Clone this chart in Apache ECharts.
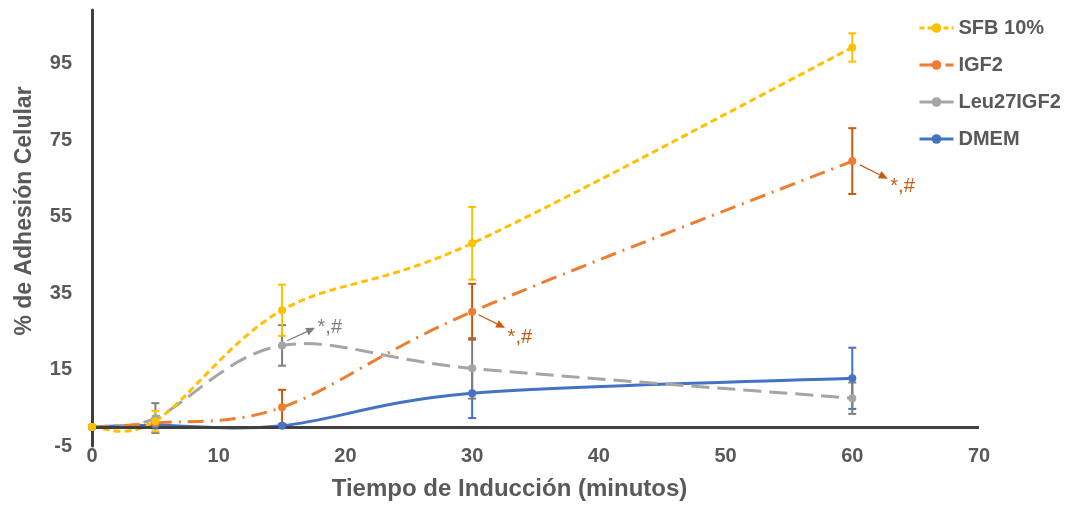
<!DOCTYPE html>
<html>
<head>
<meta charset="utf-8">
<script src="https://cdn.jsdelivr.net/npm/echarts@6/dist/echarts.min.js"></script>
<style>
html,body{margin:0;padding:0;background:#fff;}
#chart{width:1072px;height:506px;}
</style>
</head>
<body>
<div id="chart"></div>
<script>
// ---- data ----
const times = [0, 5, 15, 30, 60];
const xTicks = [0, 10, 20, 30, 40, 50, 60, 70];
const yTicks = [-5, 15, 35, 55, 75, 95];

const sfb = [0, 1.5, 30.5, 48.0, 99.2];
const sfbErr = [0, 2.7, 6.7, 9.5, 3.7];

const igf2 = [0, 1.0, 5.1, 30.1, 69.5];
const igf2Err = [0, 0, 4.6, 7.3, 8.6];

const leu = [0, 2.3, 21.3, 15.3, 7.5];
const leuErr = [0, 3.9, 5.3, 7.9, 4.1];

const dmem = [0, 0.4, 0.3, 8.8, 12.7];
const dmemErr = [0, 0.8, 0.5, 6.5, 8.0];

// annotations: arrow start (x,y), arrow end (x,y), text position (x,y)
const annGray = [[15.4, 22.5, 17.6, 25.9, 17.8, 25.9]];
const annOrange = [[30.5, 29.3, 32.6, 25.9, 32.8, 23.3], [60.6, 68.5, 62.8, 64.9, 63.0, 62.8]];
const annText = '*,#';

const names = ['SFB 10%', 'IGF2', 'Leu27IGF2', 'DMEM'];
const lineColors = ['#FFC000', '#ED7D31', '#A5A5A5', '#4472C4'];
const errColors = ['#FFC000', '#C55A11', '#7F7F7F', '#4472C4'];

const TXT = '#595959';
const FONT = 'Liberation Sans, Arial, sans-serif';

function pts(vals) { return times.map((t, i) => [t, vals[i]]); }
function errs(vals, e) { return times.map((t, i) => [t, vals[i] - e[i], vals[i] + e[i]]).filter((d, i) => e[i] > 0); }

function errSeries(name, data, color) {
  return {
    name: name, type: 'custom', silent: true, z: 3,
    data: data,
    renderItem: function (params, api) {
      const x = api.value(0);
      const lo = api.coord([x, api.value(1)]);
      const hi = api.coord([x, api.value(2)]);
      const w = 4;
      const st = { stroke: color, lineWidth: 2 };
      return {
        type: 'group', children: [
          { type: 'line', shape: { x1: lo[0], y1: lo[1], x2: hi[0], y2: hi[1] }, style: st },
          { type: 'line', shape: { x1: lo[0] - w, y1: lo[1], x2: lo[0] + w, y2: lo[1] }, style: st },
          { type: 'line', shape: { x1: hi[0] - w, y1: hi[1], x2: hi[0] + w, y2: hi[1] }, style: st }
        ]
      };
    }
  };
}

// smoothed curve (Excel-like Bezier) drawn through the axes' scales
function curveSeries(name, vals, color, dash) {
  const data = pts(vals);
  return {
    name: name, type: 'custom', silent: true, z: 4,
    data: [[0, 0]],
    renderItem: function (params, api) {
      const p = data.map(d => api.coord(d));
      const n = p.length;
      let path = 'M' + p[0][0] + ' ' + p[0][1];
      for (let i = 0; i < n - 1; i++) {
        const p0 = p[Math.max(i - 1, 0)], p1 = p[i], p2 = p[i + 1], p3 = p[Math.min(i + 2, n - 1)];
        const c1 = [p1[0] + (p2[0] - p0[0]) / 6, p1[1] + (p2[1] - p0[1]) / 6];
        const c2 = [p2[0] - (p3[0] - p1[0]) / 6, p2[1] - (p3[1] - p1[1]) / 6];
        path += ' C' + c1[0] + ' ' + c1[1] + ' ' + c2[0] + ' ' + c2[1] + ' ' + p2[0] + ' ' + p2[1];
      }
      return {
        type: 'path', shape: { pathData: path },
        style: { stroke: color, lineWidth: 3, fill: null, lineDash: dash, lineCap: 'butt' }
      };
    }
  };
}

function annSeries(data, color) {
  return {
    type: 'custom', silent: true, z: 6,
    data: data,
    renderItem: function (params, api) {
      const a = api.coord([api.value(0), api.value(1)]);
      const b = api.coord([api.value(2), api.value(3)]);
      const t = api.coord([api.value(4), api.value(5)]);
      const ang = Math.atan2(b[1] - a[1], b[0] - a[0]);
      const L = 9, W = 4;
      const bx = b[0] - L * Math.cos(ang), by = b[1] - L * Math.sin(ang);
      const px = -Math.sin(ang) * W, py = Math.cos(ang) * W;
      return {
        type: 'group', children: [
          { type: 'line', shape: { x1: a[0], y1: a[1], x2: bx, y2: by }, style: { stroke: color, lineWidth: 1.2 } },
          { type: 'polygon', shape: { points: [[b[0], b[1]], [bx + px, by + py], [bx - px, by - py]] }, style: { fill: color } },
          { type: 'text', x: t[0], y: t[1], style: { text: annText, fill: color, font: '20px ' + FONT, textVerticalAlign: 'middle', textAlign: 'left' } }
        ]
      };
    }
  };
}

const lineTypes = [[7, 4], [16, 7, 2, 7], [18, 8], null];
const legendTypes = [[5, 3], [14, 5, 2, 5], 'solid', 'solid'];
const lineData = [sfb, igf2, leu, dmem];
const errData = [errs(sfb, sfbErr), errs(igf2, igf2Err), errs(leu, leuErr), errs(dmem, dmemErr)];

const series = [];
[3, 2, 1, 0].forEach(i => {
  series.push(errSeries(names[i] + ' error', errData[i], errColors[i]));
});
[3, 2, 1, 0].forEach(i => {
  series.push(curveSeries(names[i] + ' curve', lineData[i], lineColors[i], lineTypes[i]));
});
[3, 2, 1, 0].forEach(i => {
  series.push({
    name: names[i], type: 'line', data: pts(lineData[i]),
    symbol: 'circle', symbolSize: 8, z: 5,
    itemStyle: { color: lineColors[i] },
    lineStyle: { color: lineColors[i], width: 3, opacity: 0 },
    emphasis: { disabled: true }
  });
});
series.push(annSeries(annGray, '#7F7F7F'));
series.push(annSeries(annOrange, '#C55A11'));
// horizontal axis line crossing at 0
series.push({
  type: 'line', data: [], silent: true,
  markLine: { silent: true, symbol: ['none', 'none'], label: { show: false },
    lineStyle: { color: '#404040', width: 3, type: 'solid' },
    data: [{ yAxis: 0 }] },
  z: 2
});

const chart = echarts.init(document.getElementById('chart'), null, { renderer: 'canvas' });
chart.setOption({
  animation: false,
  backgroundColor: '#fff',
  grid: { left: 92, right: 93, top: 10, bottom: 57, containLabel: false },
  legend: {
    orient: 'vertical', left: 913, top: 13,
    itemWidth: 34, itemHeight: 12, itemGap: 17,
    data: names.map((n, i) => ({
      name: n,
      itemStyle: { color: lineColors[i] },
      lineStyle: { color: lineColors[i], width: 3, opacity: 1, type: legendTypes[i] }
    })),
    textStyle: { color: TXT, fontSize: 20, fontWeight: 'bold', fontFamily: FONT }
  },
  xAxis: {
    type: 'value', min: xTicks[0], max: xTicks[xTicks.length - 1], interval: 10,
    axisLine: { show: false, onZero: false },
    axisTick: { show: false },
    splitLine: { show: false },
    axisLabel: { color: TXT, fontSize: 20, fontWeight: 'bold', fontFamily: FONT, margin: 0 },
    name: 'Tiempo de Inducción (minutos)', nameLocation: 'middle', nameGap: 31,
    nameTextStyle: { color: TXT, fontSize: 24, fontWeight: 'bold', fontFamily: FONT, padding: [0, 52, 0, 0] }
  },
  yAxis: {
    type: 'value', min: yTicks[0], max: 109, interval: 20,
    axisLine: { show: true, lineStyle: { color: '#404040', width: 3 } },
    axisTick: { show: false },
    splitLine: { show: false },
    axisLabel: { color: TXT, fontSize: 20, fontWeight: 'bold', fontFamily: FONT, margin: 20, showMaxLabel: false,
      formatter: v => yTicks.indexOf(v) >= 0 ? String(v) : '' },
    name: '% de Adhesión Celular', nameLocation: 'middle', nameGap: 56, nameRotate: 90,
    nameTextStyle: { color: TXT, fontSize: 23, fontWeight: 'bold', fontFamily: FONT, padding: [0, 0, 0, 34] }
  },
  series: series
});
</script>
</body>
</html>
